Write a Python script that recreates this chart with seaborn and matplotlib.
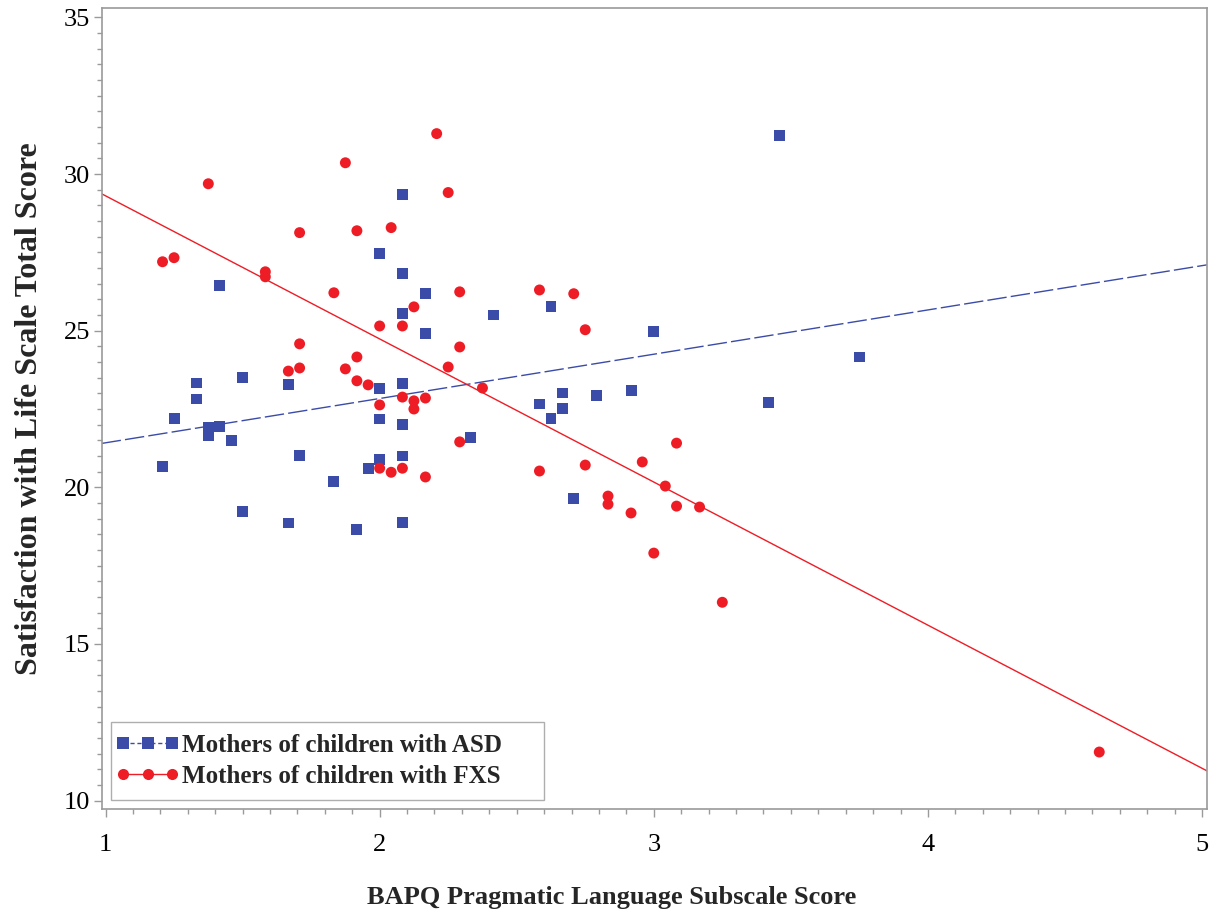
import numpy as np
import pandas as pd
import seaborn as sns
import matplotlib
matplotlib.use("Agg")
import matplotlib.pyplot as plt
from matplotlib.lines import Line2D
from matplotlib.legend_handler import HandlerLine2D
from matplotlib.ticker import MultipleLocator

# ---------------- data ----------------
asd_x = [1.208, 1.25, 1.333, 1.333, 1.375, 1.417, 1.375, 1.417, 1.458, 1.5, 1.5,
         1.667, 1.667, 1.708, 1.833, 1.917, 1.958, 2.0, 2.0, 2.0, 2.0,
         2.083, 2.083, 2.083, 2.083, 2.083, 2.083, 2.083, 2.167, 2.167,
         2.333, 2.417, 2.583, 2.625, 2.625, 2.667, 2.667, 2.708, 2.792,
         2.917, 3.0, 3.417, 3.458, 3.75]
asd_y = [20.65, 22.21, 23.33, 22.82, 21.92, 21.95, 21.66, 26.43, 21.48, 23.52, 19.24,
         23.27, 18.86, 21.03, 20.20, 18.66, 20.61, 27.46, 23.14, 22.18, 20.90,
         29.34, 26.82, 25.54, 23.30, 22.02, 21.00, 18.89, 26.18, 24.90,
         21.60, 25.50, 22.66, 22.21, 25.76, 23.01, 22.53, 19.65, 22.92,
         23.08, 24.96, 22.72, 31.23, 24.16]

fxs_x = [1.208, 1.25, 1.375, 1.583, 1.583, 1.667, 1.708, 1.708, 1.708, 1.833,
         1.875, 1.875, 1.917, 1.917, 1.917, 1.958, 2.0, 2.0, 2.0, 2.042, 2.042,
         2.083, 2.083, 2.083, 2.125, 2.125, 2.125, 2.167, 2.167, 2.208, 2.25,
         2.25, 2.292, 2.292, 2.292, 2.375, 2.583, 2.583, 2.708, 2.75, 2.75,
         2.833, 2.833, 2.917, 2.958, 3.0, 3.042, 3.083, 3.083, 3.167, 3.25, 4.625]
fxs_y = [27.20, 27.33, 29.69, 26.88, 26.72, 23.71, 23.81, 24.58, 28.13, 26.21,
         30.36, 23.78, 28.19, 24.16, 23.40, 23.27, 25.15, 22.63, 20.61, 28.29, 20.48,
         25.15, 22.88, 20.61, 25.76, 22.76, 22.50, 22.85, 20.33, 31.29, 29.41,
         23.84, 26.24, 24.48, 21.45, 23.17, 26.30, 20.52, 26.18, 25.03, 20.71,
         19.72, 19.46, 19.18, 20.81, 17.90, 20.04, 21.41, 19.40, 19.37, 16.33, 11.55]

group_labels = ["Mothers of children with ASD", "Mothers of children with FXS"]
x_ticks = [1, 2, 3, 4, 5]
y_ticks = [10, 15, 20, 25, 30, 35]
x_label = "BAPQ Pragmatic Language Subscale Score"
y_label = "Satisfaction with Life Scale Total Score"

df = pd.DataFrame({
    "x": asd_x + fxs_x,
    "y": asd_y + fxs_y,
    "group": [group_labels[0]] * len(asd_x) + [group_labels[1]] * len(fxs_x),
})

# ---------------- style ----------------
sns.set_style("white")
plt.rcParams["font.family"] = ["Liberation Serif", "DejaVu Serif"]

BLUE = "#3B4BA8"
RED = "#EE1C25"
GRAY = "#9A9A9A"

fig = plt.figure(figsize=(12.25, 9.15), dpi=100)
ax = fig.add_axes([0.083, 0.1158, 0.9023, 0.8751])
ax.set_xlim(0.986, 5.018)
ax.set_ylim(9.73, 35.29)

# regression lines (fitted from the data by seaborn)
sns.regplot(data=df[df.group == group_labels[0]], x="x", y="y", scatter=False,
            ci=None, truncate=False, ax=ax,
            line_kws=dict(color=BLUE, lw=1.0, dashes=(14, 3)))
sns.regplot(data=df[df.group == group_labels[1]], x="x", y="y", scatter=False,
            ci=None, truncate=False, ax=ax,
            line_kws=dict(color=RED, lw=1.0))

# points
sns.scatterplot(data=df, x="x", y="y", hue="group", style="group",
                palette={group_labels[0]: BLUE, group_labels[1]: RED},
                markers={group_labels[0]: "s", group_labels[1]: "o"},
                s=62, linewidth=0, legend=False, ax=ax, zorder=3)

ax.set_xlim(0.986, 5.018)
ax.set_ylim(9.73, 35.29)

# axes, ticks
ax.set_xticks(x_ticks)
ax.set_yticks(y_ticks)
ax.xaxis.set_minor_locator(MultipleLocator(0.1))
ax.yaxis.set_minor_locator(MultipleLocator(0.5))
ax.tick_params(axis="both", which="major", direction="out", length=6, width=1,
               color=GRAY, labelsize=19, labelcolor="black",
               bottom=True, left=True)
ax.tick_params(axis="both", which="minor", direction="out", length=3.6, width=1,
               color=GRAY, bottom=True, left=True)
ax.tick_params(axis="x", which="major", pad=12)
ax.tick_params(axis="y", which="major", pad=2.5)
for sp in ax.spines.values():
    sp.set_color(GRAY)
    sp.set_linewidth(1.2)
    sp.set_visible(True)

ax.set_xlabel(x_label, fontsize=19, fontweight="bold")
ax.xaxis.set_label_coords((612 - 101.7) / 1105.3, -(897 - 809) / 800.7)
ax.xaxis.label.set_verticalalignment("center")
ax.set_ylabel(y_label, fontsize=23, fontweight="bold")
ax.yaxis.set_label_coords(-(101.7 - 30) / 1105.3, 0.5)
ax.yaxis.label.set_verticalalignment("center")

# legend
handles = [
    Line2D([], [], color=BLUE, lw=1.0, ls=(0, (3, 2)), marker="s", markersize=8,
           markeredgewidth=0),
    Line2D([], [], color=RED, lw=1.0, marker="o", markersize=8, markeredgewidth=0),
]
leg = ax.legend(handles, group_labels, loc="lower left",
                bbox_to_anchor=(0.0084, 0.011, 0.3917, 0.1), mode="expand",
                numpoints=3, handlelength=1.95,
                handletextpad=0.38, labelspacing=0.3, borderpad=0.5,
                borderaxespad=0, frameon=True, fancybox=False,
                handler_map={Line2D: HandlerLine2D(marker_pad=0)},
                prop=dict(family=["Liberation Serif"], weight="bold", size=18))
leg.get_frame().set_edgecolor(GRAY)
leg.get_frame().set_linewidth(1.0)

fig.savefig("out.png", dpi=100)
